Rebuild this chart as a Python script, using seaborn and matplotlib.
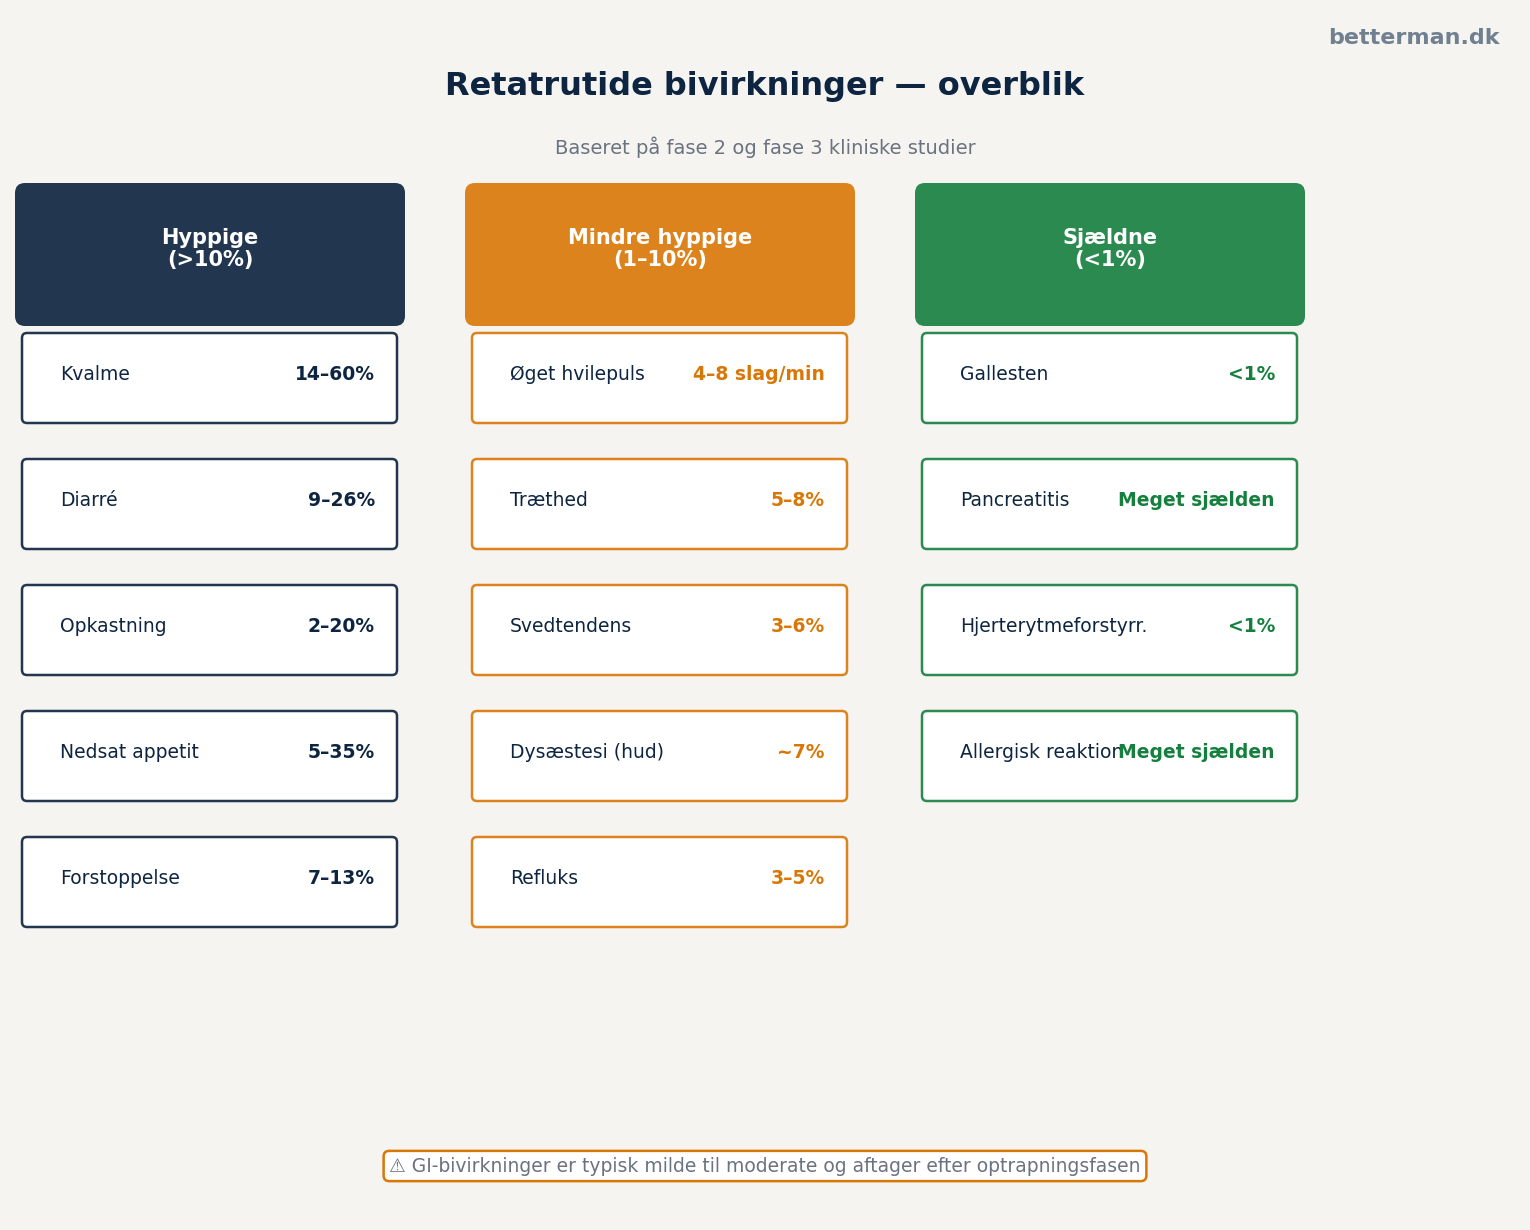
import matplotlib
matplotlib.use("Agg")
import matplotlib.pyplot as plt
import seaborn as sns
from matplotlib.patches import FancyBboxPatch

sns.set_theme(style="white")
plt.rcParams['font.family'] = ['DejaVu Sans']

categories = ["Hyppige\n(>10%)", "Mindre hyppige\n(1–10%)", "Sjældne\n(<1%)"]
effects = [
    ["Kvalme", "Diarré", "Opkastning", "Nedsat appetit", "Forstoppelse"],
    ["Øget hvilepuls", "Træthed", "Svedtendens", "Dysæstesi (hud)", "Refluks"],
    ["Gallesten", "Pancreatitis", "Hjerterytmeforstyrr.", "Allergisk reaktion"],
]
values = [
    ["14–60%", "9–26%", "2–20%", "5–35%", "7–13%"],
    ["4–8 slag/min", "5–8%", "3–6%", "~7%", "3–5%"],
    ["<1%", "Meget sjælden", "<1%", "Meget sjælden"],
]
head_colors = ["#22374f", "#dc831e", "#2b8a50"]
val_colors = ["#0d2540", "#d97706", "#15803d"]
BG = "#f5f4f0"

fig = plt.figure(figsize=(15.3, 12.3), dpi=100, facecolor=BG)
ax = fig.add_axes([0, 0, 1, 1])
ax.set_xlim(0, 1530); ax.set_ylim(1230, 0); ax.axis("off")
ax.set_facecolor(BG)

fig.text(0.5, 1 - 87/1230, "Retatrutide bivirkninger — overblik", ha="center", va="center",
         fontsize=23, fontweight="bold", color="#0d2540")
fig.text(0.5, 1 - 147/1230, "Baseret på fase 2 og fase 3 kliniske studier", ha="center",
         va="center", fontsize=14, color="#6b7280")
fig.text(1 - 30/1530, 1 - 38/1230, "betterman.dk", ha="right", va="center",
         fontsize=16, fontweight="bold", color="#708090")

for c, (cat, col) in enumerate(zip(categories, head_colors)):
    x0 = 15 + 450 * c
    ax.add_patch(FancyBboxPatch((x0 + 8, 191), 374, 127, boxstyle="round,pad=8,rounding_size=10",
                                fc=col, ec="none"))
    ax.text(x0 + 195, 249, cat, ha="center", va="center", color="white",
            fontsize=15, fontweight="bold", linespacing=1.1)
    for r, (name, val) in enumerate(zip(effects[c], values[c])):
        y0 = 333 + 126 * r
        ax.add_patch(FancyBboxPatch((x0 + 7, y0), 375, 90, boxstyle="round,pad=0,rounding_size=5",
                                    fc="white", ec=col, lw=1.8))
        ax.text(x0 + 45, y0 + 41, name, ha="left", va="center", fontsize=13.5, color="#0d2540")
        ax.text(x0 + 360, y0 + 41, val, ha="right", va="center", fontsize=13.5,
                fontweight="bold", color=val_colors[c])

ax.text(765, 1166, "⚠ GI-bivirkninger er typisk milde til moderate og aftager efter optrapningsfasen",
        ha="center", va="center", fontsize=13.5, color="#6b7280",
        bbox=dict(boxstyle="round,pad=0.3,rounding_size=0.3", fc="white", ec="#d97706", lw=1.8))

fig.savefig("out.png", dpi=100, facecolor=BG)
